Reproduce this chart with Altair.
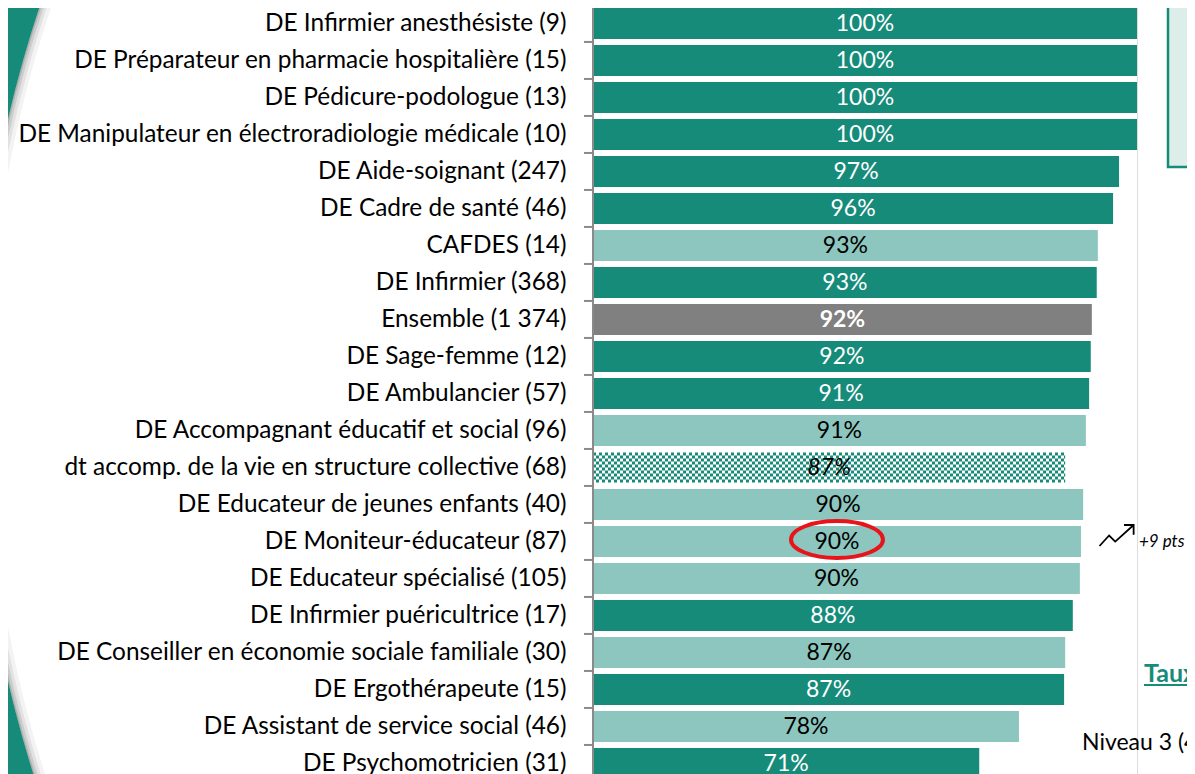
import altair as alt
import pandas as pd

# ---------------- data ----------------
labels = [
    "DE Infirmier anesthésiste (9)",
    "DE Préparateur en pharmacie hospitalière (15)",
    "DE Pédicure-podologue (13)",
    "DE Manipulateur en électroradiologie médicale (10)",
    "DE Aide-soignant (247)",
    "DE Cadre de santé (46)",
    "CAFDES (14)",
    "DE Infirmier (368)",
    "Ensemble (1 374)",
    "DE Sage-femme (12)",
    "DE Ambulancier (57)",
    "DE Accompagnant éducatif et social (96)",
    "dt accomp. de la vie en structure collective (68)",
    "DE Educateur de jeunes enfants (40)",
    "DE Moniteur-éducateur (87)",
    "DE Educateur spécialisé (105)",
    "DE Infirmier puéricultrice (17)",
    "DE Conseiller en économie sociale familiale (30)",
    "DE Ergothérapeute (15)",
    "DE Assistant de service social (46)",
    "DE Psychomotricien (31)",
]
values = [1.0, 1.0, 1.0, 1.0, 0.967, 0.956, 0.928, 0.926, 0.917, 0.915, 0.912,
          0.906, 0.868, 0.901, 0.897, 0.895, 0.882, 0.868, 0.866, 0.783, 0.710]
pct_text = ["100%", "100%", "100%", "100%", "97%", "96%", "93%", "93%", "92%", "92%", "91%",
            "91%", "87%", "90%", "90%", "90%", "88%", "87%", "87%", "78%", "71%"]
kinds = ["dark", "dark", "dark", "dark", "dark", "dark", "light", "dark", "total", "dark", "dark",
         "light", "hatched", "light", "light", "light", "dark", "light", "dark", "light", "dark"]
highlighted = ["DE Moniteur-éducateur (87)"]
evolution_text = "+9 pts"
side_title = "Taux"
side_text = "Niveau 3 (4"

df = pd.DataFrame({"label": labels, "value": values, "pct": pct_text, "kind": kinds})
df["mid"] = df["value"] / 2
df["zero"] = 0.0

TEAL = "#178b7a"
LIGHT = "#8cc6be"
GREY = "#808080"
AXIS_GREY = "#8a8a8a"
FONT = "Lato"

order = labels
y_axis = alt.Y(
    "label:N", sort=order, title=None,
    scale=alt.Scale(paddingInner=0.16, paddingOuter=0.08),
    axis=alt.Axis(orient="left", ticks=False, domain=False, labelPadding=27,
                  labelFontSize=24.4, labelFont=FONT, labelColor="#000000",
                  labelLimit=0, zindex=1, grid=False),
)
y_plain = alt.Y("label:N", sort=order)
x_scale = alt.Scale(domain=[0, 1], nice=False, zero=True)

base = alt.Chart(df)
dummy = alt.Chart(pd.DataFrame({"d": [0]}))

# ---- slide decorations ----
def ring(inner, outer, color):
    return dummy.mark_arc(theta=4.2, theta2=5.25, innerRadius=inner, outerRadius=outer,
                          fill=color).encode(x=alt.value(630), y=alt.value(395))

deco = [ring(1236, 1247, "#f3f3f3"), ring(1240, 1247, "#e2e2e2"),
        ring(1243, 1247, "#cccccc"), ring(1245.5, 1247, "#b0b0b0"),
        ring(1247, 1700, TEAL)]
box = dummy.mark_rect(fill="#dcedea", stroke=TEAL, strokeWidth=2.5).encode(
    x=alt.value(575), x2=alt.value(660), y=alt.value(-30), y2=alt.value(162))

# ---- bars ----
bars = base.transform_filter(alt.datum.kind != "hatched").mark_bar().encode(
    x=alt.X("value:Q", scale=x_scale, axis=None),
    y=y_axis,
    color=alt.Color("kind:N", scale=alt.Scale(domain=["dark", "light", "total"],
                                              range=[TEAL, LIGHT, GREY]), legend=None),
)

# checkerboard-like texture for the hatched bar
cell = 3
hatch_layers = []
for k in range(10):
    off = -15 + cell / 2 + k * cell
    hatch_layers.append(
        base.transform_filter(alt.datum.kind == "hatched")
        .mark_rule(color=TEAL, strokeWidth=cell, strokeDash=[cell, cell],
                   strokeDashOffset=(cell if k % 2 else 0), yOffset=off)
        .encode(x=alt.X("zero:Q", scale=x_scale), x2="value:Q", y=y_plain)
    )

# axis line and ticks between categories
axis_line = dummy.mark_rule(color=AXIS_GREY, strokeWidth=2).encode(
    x=alt.value(0), x2=alt.value(0), y=alt.value(-10), y2=alt.value(800))
ticks = base.mark_rule(color=AXIS_GREY, strokeWidth=2, yOffset=-3).encode(
    y=alt.Y("label:N", sort=order, bandPosition=0),
    x=alt.value(-9), x2=alt.value(0))

# ---- value labels ----
def txt(filt, **kw):
    return base.transform_filter(filt).mark_text(fontSize=23, font=FONT, baseline="middle",
                                                 **kw).encode(
        x=alt.X("mid:Q", scale=x_scale), y=y_plain, text="pct:N")

t_dark = txt(alt.datum.kind == "dark", color="white")
t_light = txt(alt.datum.kind == "light", color="#000000")
t_total = txt(alt.datum.kind == "total", color="white", fontWeight="bold")
t_hatch = txt(alt.datum.kind == "hatched", color="#000000", fontStyle="italic")

# ---- highlight ----
ELLIPSE = "M -1 0 A 1 0.4 0 1 0 1 0 A 1 0.4 0 1 0 -1 0 Z"
ARROW = "M -1 0.6 L -0.45 0 L -0.1 0.35 L 0.95 -0.6 M 0.4 -0.6 L 0.95 -0.6 L 0.95 -0.05"
hl = base.transform_filter(alt.FieldOneOfPredicate(field="label", oneOf=highlighted))
ellipse = hl.mark_point(shape=ELLIPSE, size=8464, filled=False, stroke="#e8141b",
                        strokeWidth=4, opacity=1, yOffset=-2).encode(
    x=alt.X("mid:Q", scale=x_scale), y=y_plain)
arrow = hl.mark_point(shape=ARROW, size=1225, filled=False, stroke="#000000",
                      strokeWidth=1.8, opacity=1, yOffset=-6).encode(
    x=alt.value(524), y=y_plain)
evo = hl.mark_text(text=evolution_text, fontSize=17, font=FONT, fontStyle="italic",
                   align="left", baseline="middle", color="#000000").encode(
    x=alt.value(546), y=y_plain)

# ---- side texts ----
taux = dummy.mark_text(text=side_title, fontSize=25, font=FONT, fontWeight="bold",
                       color=TEAL, align="left", baseline="alphabetic").encode(
    x=alt.value(551), y=alt.value(677))
underline = dummy.mark_rule(color=TEAL, strokeWidth=2).encode(
    x=alt.value(551), x2=alt.value(660), y=alt.value(680), y2=alt.value(680))
niveau = dummy.mark_text(text=side_text, fontSize=23, font=FONT, color="#000000",
                         align="left", baseline="alphabetic").encode(
    x=alt.value(489), y=alt.value(745))

chart = alt.layer(
    *deco, box,
    bars, *hatch_layers, axis_line, ticks,
    t_dark, t_light, t_total, t_hatch,
    ellipse, arrow, evo, taux, underline, niveau,
).resolve_axis(y="shared").properties(
    width=544, height=777,
    autosize=alt.AutoSizeParams(type="none"),
    padding={"left": 585, "top": -3, "right": 50, "bottom": 0},
).configure_view(stroke=None).configure(background="white")

chart.save("out.html", embed_options={"renderer": "svg", "actions": False})
